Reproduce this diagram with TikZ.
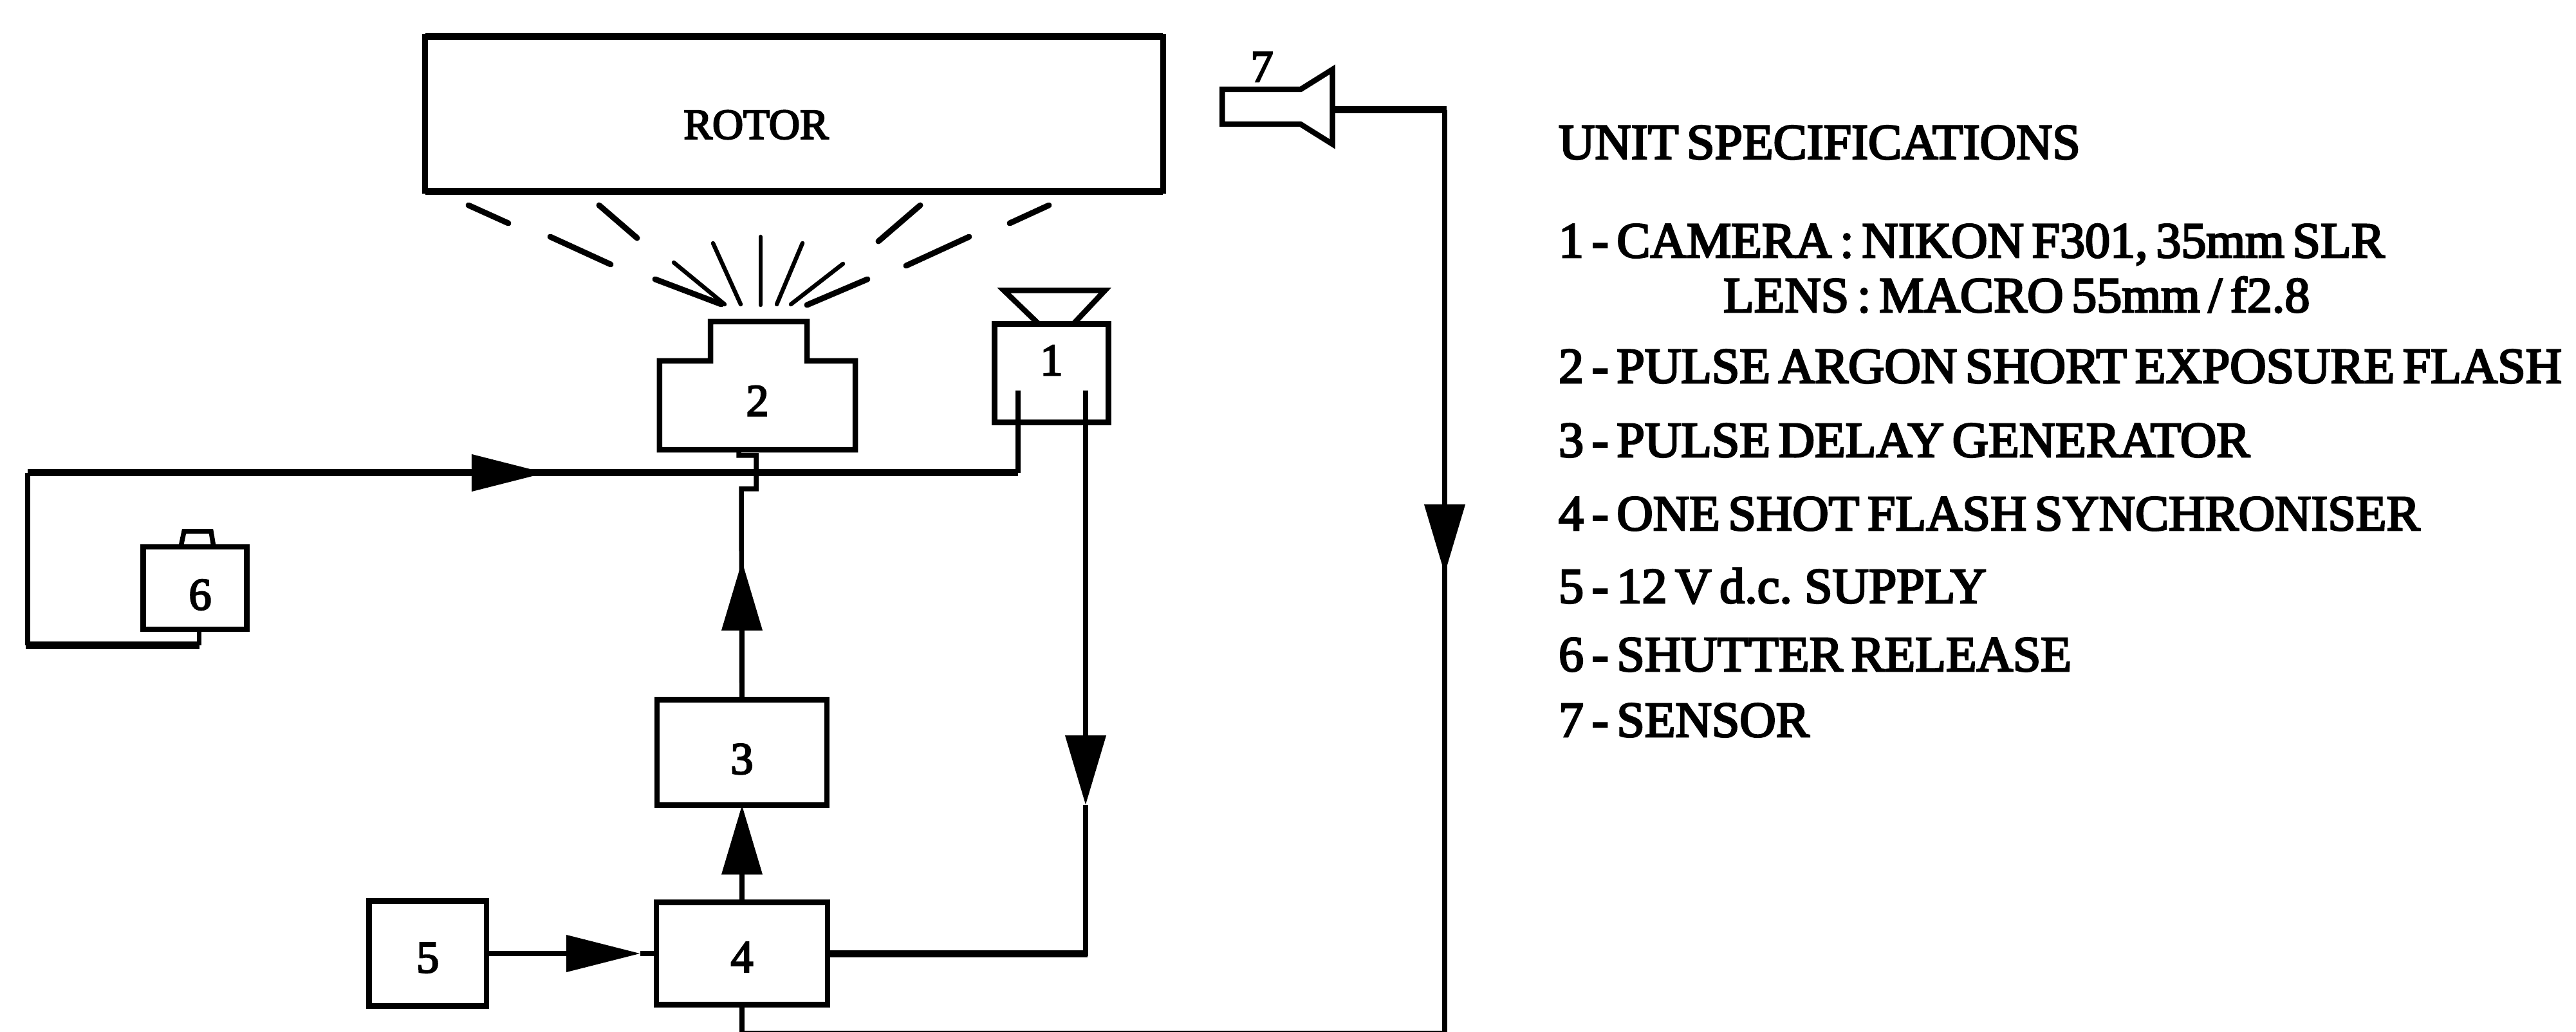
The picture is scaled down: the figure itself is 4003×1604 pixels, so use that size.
\documentclass[tikz,border=0pt]{standalone}
\usepackage{fontspec}
\setmainfont[FakeBold=3.5,WordSpace=0.65]{Liberation Serif}
\usetikzlibrary{positioning, arrows.meta, calc}

\begin{document}
\begin{tikzpicture}[x=0.01cm,y=-0.01cm,
  bx/.style={draw,line width=.085cm,inner sep=0pt,outer sep=0pt,font=\fontsize{20}{24}\selectfont},
  blank/.style={inner sep=0pt,outer sep=0pt,font=\fontsize{20}{24}\selectfont},
  wr/.style={draw,line width=.075cm,line join=miter},
  hv/.style={draw,line width=.11cm,line join=miter},
  harr/.style={-{Triangle[length=1.15cm,width=.56cm]}},
  varr/.style={-{Triangle[length=1.08cm,width=.62cm]}},
  ray/.style={draw,line width=.09cm,line cap=round},
  fan/.style={draw,line width=.065cm,line cap=round},
  spec/.style={anchor=base west,inner sep=0pt,outer sep=0pt,font=\fontsize{22.2}{26}\selectfont}]
  \useasboundingbox (0,0) rectangle (4003,1604);
  \node[bx,minimum width=11.46cm,minimum height=2.40cm](rot) at (1234,177){};
  \draw[hv] (rot.north west)--(rot.north east) (rot.south west)--(rot.south east);
  \node[blank](rotl) at (1175,194){\fontsize{19}{23}\selectfont ROTOR};

  \node[blank,text depth=.14cm,minimum width=3.04cm,minimum height=1.38cm](fl) at (1177,630){2};
  \draw[bx] (fl.south west)--(fl.north west)--(1104,561)--(1104,500)--(1254,500)--(1254,561)--(fl.north east)--(fl.south east)--cycle;
  \node[bx,text depth=.4cm,minimum width=1.77cm,minimum height=1.53cm](cam) at (1634,580){1};
  \draw[bx] ($(cam.north)+(-20,0)$)--($(cam.north)+(-74,-52)$)--($(cam.north)+(83,-52)$)--($(cam.north)+(34,0)$);

  \node[bx,text height=.575cm,minimum width=2.66cm,minimum height=1.59cm](sy) at (1153,1482){4};
  \node[bx,text height=.675cm,minimum width=2.64cm,minimum height=1.64cm,above=1.51cm of sy](dg){3};
  \node[bx,text height=.595cm,minimum width=1.82cm,minimum height=1.63cm,left=2.64cm of sy](sup){5};
  \node[bx,text height=.675cm,minimum width=1.61cm,minimum height=1.28cm](sr) at (303,914){\hspace{.16cm}6};
  \draw[wr] (281,850)--(286,826)--(328,826)--(332,850);

  \node[blank,minimum width=1.71cm,minimum height=1.16cm](sn) at (1985,166){};
  \draw[bx] (2021,139)--(sn.west |- 0,139)--(sn.west |- 0,193)--(2021,193)--(sn.south east)--(sn.north east)--cycle;
  \node[blank](snl) at (1961,104){7};

  \draw[ray] (728,319)--(790,347);
  \draw[ray] (931,319)--(990,370);
  \draw[ray] (855,368)--(949,411);
  \draw[ray] (1430,319)--(1365,375);
  \draw[ray] (1630,319)--(1569,347);
  \draw[ray] (1506,368)--(1408,413);
  \draw[ray] (1018,434)--(1121,473);
  \draw[fan] (1047,408)--(1126,473);
  \draw[fan] (1108,378)--(1151,473);
  \draw[fan] (1182,368)--(1182,474);
  \draw[fan] (1247,378)--(1207,473);
  \draw[fan] (1310,410)--(1229,473);
  \draw[ray] (1348,434)--(1254,474);

  \coordinate (cl) at (1582,607);
  \coordinate (cr) at (1687,607);
  \coordinate (ml) at (43,735);
  \coordinate (sc) at (2245,171);
  \draw[wr] (cl)--(1582,735);
  \draw[hv] (1582,735)--(ml);
  \draw[wr] (ml)--(43,1003);
  \draw[hv] (40,1003)--([xshift=.065cm]sr.south |- 0,1003);
  \draw[wr] ([xshift=.065cm]sr.south |- 0,1003)--([xshift=.065cm]sr.south);
  \draw[wr,harr] (ml)--(848,735);
  \draw[wr,harr] (sup)--(995,1482);
  \draw[wr] (995,1482)--(sy);
  \draw[wr,varr] (sy)--(dg);
  \draw[wr] (dg)--(1152,760)--(1175,760)--(1175,708)--(1148,708)--(1148,699);
  \draw[wr,varr] (dg.north)--(1153,872);
  \draw[wr,varr] (cr)--(1687,1251);
  \draw[wr] (1687,1251)--(1687,1486);
  \draw[hv] (sy.east)--(1690,1482);
  \draw[hv] (2070,171)--(2248,171);
  \draw[wr] (sc)--(2245,1606)--(1153,1606)--(sy.south);
  \draw[wr,varr] (sc)--(2245,892);

  \node[spec](u0) at (2422,247){UNIT SPECIFICATIONS};
  \node[spec](u1) at (2422,400){1 - CAMERA : NIKON F301, 35mm SLR};
  \node[spec](u1b) at (2678,485){LENS : MACRO 55mm / f2.8};
  \node[spec](u2) at (2422,595){2 - PULSE ARGON SHORT EXPOSURE FLASH};
  \node[spec](u3) at (2422,710){3 - PULSE DELAY GENERATOR};
  \node[spec](u4) at (2422,824){4 - ONE SHOT FLASH SYNCHRONISER};
  \node[spec](u5) at (2422,937){5 - 12 V d.c. SUPPLY};
  \node[spec](u6) at (2422,1043){6 - SHUTTER RELEASE};
  \node[spec](u7) at (2422,1145){7 - SENSOR};
\end{tikzpicture}
\end{document}
